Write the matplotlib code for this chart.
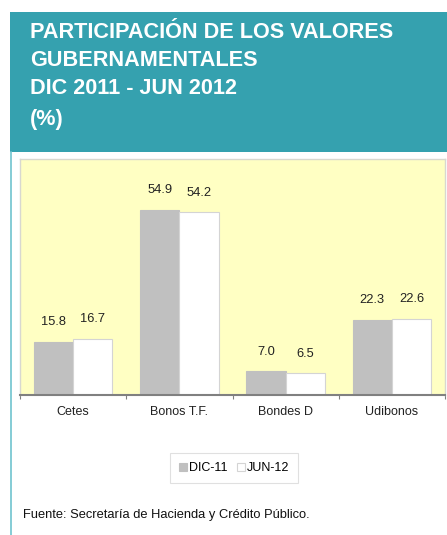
import matplotlib
matplotlib.use("Agg")
import matplotlib.pyplot as plt
import numpy as np
from matplotlib.patches import Rectangle
from matplotlib.lines import Line2D

categories = ["Cetes", "Bonos T.F.", "Bondes D", "Udibonos"]
dic11 = [15.8, 54.9, 7.0, 22.3]
jun12 = [16.7, 54.2, 6.5, 22.6]
series_names = ["DIC-11", "JUN-12"]
title_lines = ["PARTICIPACIÓN DE LOS VALORES", "GUBERNAMENTALES", "DIC 2011 - JUN 2012", "(%)"]
source = "Fuente: Secretaría de Hacienda y Crédito Público."

FONT = ["Liberation Sans Narrow", "Liberation Sans", "DejaVu Sans"]
plt.rcParams['font.family'] = FONT

W, H = 447, 535
fig = plt.figure(figsize=(W / 100, H / 100), dpi=100)
fig.patch.set_facecolor("white")

def fx(px):
    return px / W

def fy(py):
    return 1 - py / H

teal = "#35A1AF"
# header box
fig.patches.append(Rectangle((fx(10), fy(152)), fx(447) - fx(10), fy(12) - fy(152),
                             transform=fig.transFigure, facecolor=teal, edgecolor="none", zorder=0))
# left teal line
fig.lines.append(Line2D([fx(10.5), fx(10.5)], [fy(152), 0], transform=fig.transFigure,
                        color="#6FC4CE", lw=1.2))

title_y = [33, 61, 89, 119]
for t, y in zip(title_lines, title_y):
    fig.text(fx(30), fy(y), t, color="white", fontsize=15.6, fontweight="bold",
             va="center", ha="left", family=FONT)

ax = fig.add_axes([fx(20), fy(395), fx(445) - fx(20), fy(159) - fy(395)])
ax.set_facecolor("#FFFFC3")

x = np.arange(len(categories))
w = 0.37
b1 = ax.bar(x - w / 2, dic11, w, color="#C0C0C0", edgecolor="#C0C0C0", lw=0.8, label=series_names[0], zorder=2)
b2 = ax.bar(x + w / 2, jun12, w, color="white", edgecolor="#D4D4D4", lw=0.8, label=series_names[1], zorder=2)

for bars, vals in ((b1, dic11), (b2, jun12)):
    for r, v in zip(bars, vals):
        ax.annotate(f"{v:.1f}", (r.get_x() + r.get_width() / 2, v), xytext=(0, 14),
                    textcoords="offset points", ha="center", va="center", fontsize=9.3, color="#222222")

ax.set_xlim(-0.5, len(categories) - 0.5)
ax.set_ylim(0, 70)
ax.set_yticks([])
ax.set_xticks(x)
ax.set_xticklabels(categories, fontsize=9, color="#222222")
ax.tick_params(axis="x", length=0, pad=8)
ax.set_xticks(np.arange(-0.5, len(categories)), minor=True)
ax.tick_params(axis="x", which="minor", length=3, color="#808080", width=0.8)

for s in ["top", "right", "left"]:
    ax.spines[s].set_color("#D8D8D0")
    ax.spines[s].set_linewidth(1.0)
ax.spines["bottom"].set_color("#808080")
ax.spines["bottom"].set_linewidth(1.5)

leg = fig.legend(handles=[b1, b2], labels=series_names, loc="center",
                 bbox_to_anchor=(fx(234), fy(468)), ncol=2, fontsize=9,
                 frameon=True, fancybox=False, edgecolor="#D9D9D9",
                 handlelength=0.6, handleheight=0.6, handletextpad=0.15,
                 columnspacing=0.8, borderpad=0.75, borderaxespad=0)
leg.get_frame().set_linewidth(0.8)

fig.text(fx(23), fy(515), source, fontsize=9.3, color="#111111", va="center", ha="left")

fig.savefig("out.png", dpi=100)
